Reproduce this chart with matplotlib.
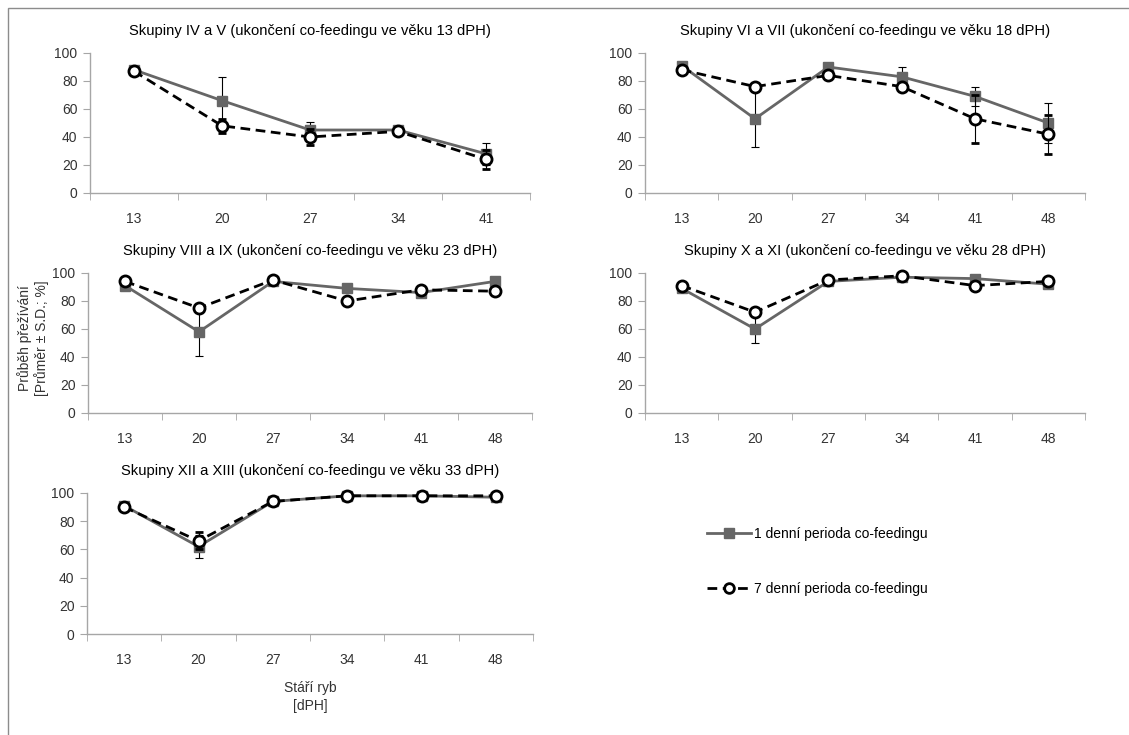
import matplotlib
matplotlib.use("Agg")
import matplotlib.pyplot as plt
import numpy as np
from matplotlib.patches import Rectangle
from matplotlib.lines import Line2D

plt.rcParams['font.family'] = ['Liberation Sans', 'DejaVu Sans']

titles = [
    "Skupiny IV a V (ukončení co-feedingu ve věku 13 dPH)",
    "Skupiny VI a VII (ukončení co-feedingu ve věku 18 dPH)",
    "Skupiny VIII a IX (ukončení co-feedingu ve věku 23 dPH)",
    "Skupiny X a XI (ukončení co-feedingu ve věku 28 dPH)",
    "Skupiny XII a XIII (ukončení co-feedingu ve věku 33 dPH)",
]
days_5 = ["13", "20", "27", "34", "41"]
days_6 = ["13", "20", "27", "34", "41", "48"]
categories = [days_5, days_6, days_6, days_6, days_6]

one_day_mean = [
    [88, 66, 45, 45, 28],
    [91, 53, 90, 83, 69, 50],
    [91, 58, 94, 89, 86, 94],
    [89, 60, 94, 97, 96, 92],
    [91, 62, 94, 98, 98, 97],
]
one_day_sd = [
    [1, 17, 6, 1, 8],
    [1, 20, 1, 7, 7, 14],
    [1, 17, 1, 1, 1, 1],
    [1, 10, 1, 1, 1, 1],
    [1, 8, 1, 1, 1, 1],
]
seven_day_mean = [
    [87, 48, 40, 44, 24],
    [88, 76, 84, 76, 53, 42],
    [94, 75, 95, 80, 88, 87],
    [91, 72, 95, 98, 91, 94],
    [90, 66, 94, 98, 98, 98],
]
seven_day_sd = [
    [1, 5, 6, 1, 7],
    [1, 2, 1, 2, 17, 14],
    [1, 1, 1, 1, 3, 1],
    [1, 2, 1, 1, 1, 1],
    [1, 6, 1, 1, 1, 1],
]
labels = ["1 denní perioda co-feedingu", "7 denní perioda co-feedingu"]

W, H = 1129, 735
fig = plt.figure(figsize=(W / 100, H / 100), dpi=100)

# outer frame
fig.patches.append(Rectangle((8 / W, -0.01), 1.2, 1 - 8 / H + 0.01, transform=fig.transFigure,
                             fill=False, edgecolor='#8c8c8c', linewidth=1))

# axes boxes in pixels: left, top, width, bottom
boxes = [
    (90, 53, 440, 193),
    (645, 53, 440, 193),
    (88, 273, 444, 413),
    (645, 273, 440, 413),
    (87, 493, 446, 634),
]

gray = '#666666'
axcol = '#a6a6a6'
s1_style = dict(color=gray, lw=2, marker='s', markersize=7.5,
                markerfacecolor=gray, markeredgecolor=gray)
s2_style = dict(color='black', lw=2, linestyle=(0, (3.5, 2)), marker='o', markersize=8,
                markerfacecolor='white', markeredgecolor='black', markeredgewidth=2)
for i, (l, t, w, b) in enumerate(boxes):
    ax = fig.add_axes([l / W, 1 - b / H, w / W, (b - t) / H])
    cats = categories[i]
    x = np.arange(len(cats))
    ax.errorbar(x, one_day_mean[i], yerr=one_day_sd[i], ecolor='black', elinewidth=0.8,
                capsize=3, capthick=0.8, zorder=3, **s1_style)
    ax.errorbar(x, seven_day_mean[i], yerr=seven_day_sd[i], ecolor='black', elinewidth=0.8,
                capsize=3, capthick=0.8, zorder=4, **s2_style)
    ax.set_xlim(-0.5, len(cats) - 0.5)
    ax.set_ylim(0, 100)
    ax.set_yticks([0, 20, 40, 60, 80, 100])
    ax.set_xticks(x)
    ax.set_xticklabels(cats)
    ax.set_xticks(np.arange(len(cats) + 1) - 0.5, minor=True)
    ax.tick_params(axis='x', which='major', length=0, pad=14, labelsize=10, colors='#333333')
    ax.tick_params(axis='x', which='minor', length=5, color=axcol, direction='out')
    ax.tick_params(axis='y', which='major', length=5, color=axcol, labelsize=10,
                   labelcolor='#333333', direction='out', pad=4)
    for s in ['top', 'right']:
        ax.spines[s].set_visible(False)
    for s in ['left', 'bottom']:
        ax.spines[s].set_color(axcol)
        ax.spines[s].set_linewidth(1)
    ax.set_title(titles[i], fontsize=10.6, pad=13, color='black')
    for ch in ax.get_children():
        if hasattr(ch, 'set_clip_on'):
            ch.set_clip_on(False)

fig.text(33 / W, 1 - 338 / H, "Průběh přežívání\n[Průměr ± S.D.; %]", rotation=90,
         ha='center', va='center', fontsize=10, color='#333333', linespacing=1.2)
fig.text(310 / W, 1 - 697 / H, "Stáří ryb\n[dPH]", ha='center', va='center',
         fontsize=10, color='#333333', linespacing=1.3)

handles = [Line2D([], [], **s1_style), Line2D([], [], **s2_style)]
handles[1].set_markersize(7)
fig.legend(handles, labels, loc='upper left', bbox_to_anchor=(701 / W, 1 - 521 / H),
           frameon=False, fontsize=10, labelspacing=3.0, handlelength=3.2, handletextpad=0.2,
           borderaxespad=0)

fig.savefig("out.png", dpi=100)
